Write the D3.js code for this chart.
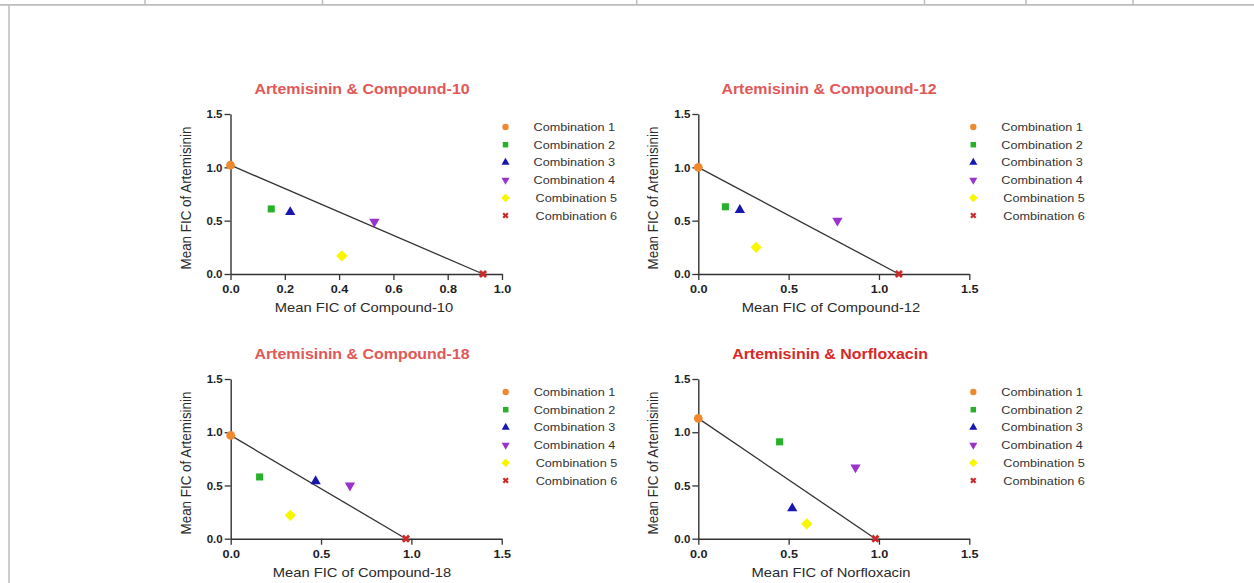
<!DOCTYPE html>
<html><head><meta charset="utf-8">
<script src="https://cdn.jsdelivr.net/npm/d3@7"></script>
<style>
html,body{margin:0;padding:0;background:#fff;}
svg{display:block;font-family:"Liberation Sans",Arial,Helvetica,sans-serif;}
</style></head>
<body>
<svg id="chart" width="1254" height="583"></svg>
<script>
// ---------- DATA ----------
const combinations = ["Combination 1","Combination 2","Combination 3","Combination 4","Combination 5","Combination 6"];
const panelTitles = ["Artemisinin & Compound-10","Artemisinin & Compound-12","Artemisinin & Compound-18","Artemisinin & Norfloxacin"];
const xAxisLabels = ["Mean FIC of Compound-10","Mean FIC of Compound-12","Mean FIC of Compound-18","Mean FIC of Norfloxacin"];
const yAxisLabel = "Mean FIC of Artemisinin";
const xDomainMax = [1.0, 1.5, 1.5, 1.5];
const xTicks10 = [0, 0.2, 0.4, 0.6, 0.8, 1.0];
const xTicks15 = [0, 0.5, 1.0, 1.5];
const yTicks = [0, 0.5, 1.0, 1.5];
// mean FIC of the partner compound (x) and artemisinin (y), per combination
const comp10X = [0.00, 0.15, 0.22, 0.53, 0.41, 0.93];
const comp10Y = [1.02, 0.61, 0.58, 0.49, 0.17, 0.00];
const comp12X = [0.00, 0.15, 0.23, 0.77, 0.32, 1.11];
const comp12Y = [1.00, 0.63, 0.60, 0.50, 0.25, 0.00];
const comp18X = [0.00, 0.16, 0.47, 0.66, 0.33, 0.97];
const comp18Y = [0.97, 0.58, 0.54, 0.50, 0.22, 0.00];
const norfX   = [0.00, 0.45, 0.52, 0.87, 0.60, 0.98];
const norfY   = [1.13, 0.91, 0.285, 0.67, 0.14, 0.00];

// ---------- STYLE / LAYOUT ----------
const colors = ["#f0892e","#27b12a","#1616b0","#9a32cc","#f7f700","#cc2a2a"];
const symbols = [d3.symbolCircle, d3.symbolSquare, d3.symbolTriangle, d3.symbolTriangle, d3.symbolSquare, d3.symbolCross];
const rotations = [0, 0, 0, 180, 45, 45];
const titleColors = ["#e05858","#e05858","#e05858","#d82828"];
const SX = 1.1; // horizontal text stretch of the reference image
const panels = [
  {x0:230.5, x1:502,   y0:274,   y1:114, tx:362, xl:364, yl:198},
  {x0:698.3, x1:969.3, y0:274,   y1:114, tx:829, xl:831, yl:198},
  {x0:230.7, x1:501.7, y0:538.7, y1:379, tx:362, xl:362, yl:463},
  {x0:698.3, x1:969.3, y0:538.7, y1:379, tx:830, xl:831, yl:463}
];
const seriesX = [comp10X, comp12X, comp18X, norfX];
const seriesY = [comp10Y, comp12Y, comp18Y, norfY];

const svg = d3.select("#chart");

// page decoration (table border in the screenshot)
const border = "#bdbdbd";
svg.append("line").attr("x1",0).attr("x2",1254).attr("y1",4.8).attr("y2",4.8).attr("stroke",border).attr("stroke-width",1.8);
svg.append("line").attr("x1",9).attr("x2",9).attr("y1",4).attr("y2",583).attr("stroke",border).attr("stroke-width",1.5);
[145, 322.5, 636.7, 924.5, 1026, 1133].forEach(x=>{
  svg.append("line").attr("x1",x).attr("x2",x).attr("y1",0).attr("y2",4.5).attr("stroke",border).attr("stroke-width",1.5);
});

function htext(g, x, y, txt){
  return g.append("text").attr("transform",`translate(${x},${y}) scale(${SX},1)`).text(txt);
}

panels.forEach((p, i) => {
  const g = svg.append("g");
  const x = d3.scaleLinear().domain([0, xDomainMax[i]]).range([p.x0, p.x1]);
  const y = d3.scaleLinear().domain([0, 1.5]).range([p.y0, p.y1]);
  const xt = xDomainMax[i] === 1.0 ? xTicks10 : xTicks15;

  // title
  htext(g, p.tx, p.y1 - 20, panelTitles[i])
    .attr("text-anchor","middle").attr("font-weight","bold").attr("font-size",14.5)
    .attr("fill", titleColors[i]);

  // axes
  const xAxis = d3.axisBottom(x).tickValues(xt).tickFormat(d3.format(".1f")).tickSize(6).tickSizeOuter(0);
  const yAxis = d3.axisLeft(y).tickValues(yTicks).tickFormat(d3.format(".1f")).tickSize(6).tickSizeOuter(0);
  const gx = g.append("g").attr("transform",`translate(0,${p.y0})`).call(xAxis);
  const gy = g.append("g").attr("transform",`translate(${p.x0},0)`).call(yAxis);
  [gx, gy].forEach(a => {
    a.select(".domain").attr("stroke","#333").attr("stroke-width",1.4);
    a.selectAll(".tick line").attr("stroke","#333").attr("stroke-width",1.3);
    a.selectAll(".tick text").attr("fill","#1e1e1e").attr("font-weight","bold")
      .attr("font-size",11.5).attr("font-family","Liberation Sans, Arial, sans-serif");
  });
  gx.selectAll(".tick text").attr("dy","0.9em").attr("transform",`scale(${SX},1)`);
  gy.selectAll(".tick text").attr("x",-8);

  // axis labels
  htext(g, p.xl, p.y0 + 38, xAxisLabels[i])
    .attr("text-anchor","middle").attr("font-size",13.4).attr("fill","#2a2a2a");
  g.append("text").attr("transform",`translate(${p.x0 - 40},${p.yl}) rotate(-90) scale(1,1.08)`)
    .attr("text-anchor","middle").attr("font-size",13.4).attr("fill","#2a2a2a").text(yAxisLabel);

  // additivity line between the two single-agent points
  const xs = seriesX[i], ys = seriesY[i];
  g.append("line")
    .attr("x1", x(xs[0])).attr("y1", y(ys[0]))
    .attr("x2", x(xs[5])).attr("y2", y(ys[5]))
    .attr("stroke","#333").attr("stroke-width",1.3);

  // points
  const sizes = [60, 50, 46, 46, 42, 42];
  combinations.forEach((c, k) => {
    g.append("path")
      .attr("d", d3.symbol().type(symbols[k]).size(sizes[k])())
      .attr("transform",`translate(${x(xs[k])},${y(ys[k])}) rotate(${rotations[k]})`)
      .attr("fill", colors[k])
      .attr("stroke", k === 4 ? colors[k] : "none").attr("stroke-linejoin","round").attr("stroke-width",1.5);
  });

  // legend
  const lsizes = [32, 30, 28, 28, 24, 24];
  const ly0 = p.y1 + 13, lstep = 17.7;
  combinations.forEach((c, k) => {
    const yy = ly0 + k * lstep;
    g.append("path")
      .attr("d", d3.symbol().type(symbols[k]).size(lsizes[k])())
      .attr("transform",`translate(${p.x0 + 275},${yy}) rotate(${rotations[k]})`)
      .attr("fill", colors[k])
      .attr("stroke", k === 4 ? colors[k] : "none").attr("stroke-linejoin","round").attr("stroke-width",1.2);
    htext(g, p.x0 + 303 + (k >= 4 ? 2 : 0), yy + 4, c)
      .attr("font-size",11.5).attr("fill","#333");
  });
});
</script>
</body></html>
